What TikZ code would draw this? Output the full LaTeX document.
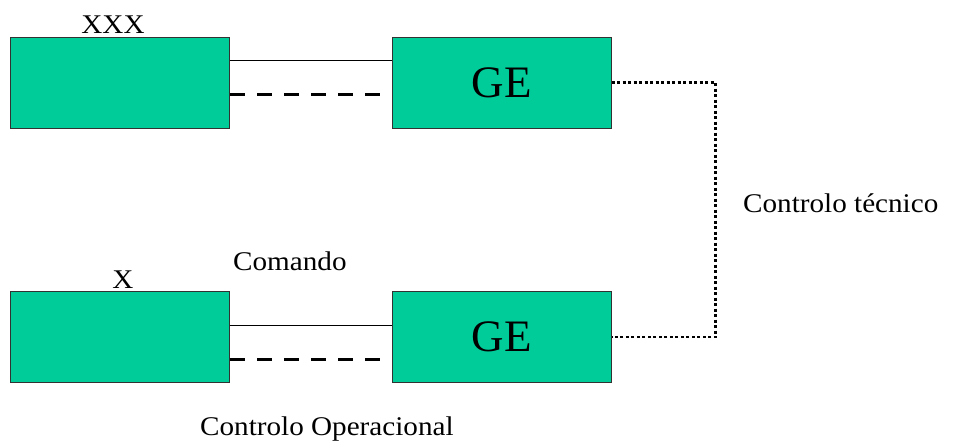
\documentclass[tikz,border=0pt]{standalone}
\usepackage{fontspec}
\setmainfont{Liberation Serif}
\newfontfamily\lblfont[FakeStretch=1.08]{Liberation Serif}
\definecolor{boxgreen}{RGB}{0,204,153}
\definecolor{edgegray}{RGB}{50,50,50}
\tikzset{
  unitbox/.style={draw=edgegray, line width=1pt, fill=boxgreen,
    minimum width=219pt, minimum height=91pt, inner sep=0pt,
    font=\fontsize{45}{45}\selectfont},
  lbl/.style={inner sep=0pt, anchor=base west, font=\lblfont\fontsize{27}{27}\selectfont},
  cmdline/.style={draw=black, line width=1pt},
  opline/.style={draw=black, line width=3pt, dash pattern=on 15pt off 12pt},
  techline/.style={draw=black, line width=2.5pt, dash pattern=on 3pt off 2.5pt}
}
\begin{document}
\begin{tikzpicture}[x=1pt, y=-1pt]
  \useasboundingbox (0,0) rectangle (954,447);

  % units
  \node[unitbox] (tl) at (120,82.5) {};
  \node[unitbox] (tge) at (501.5,82.5) {GE};
  \node[unitbox] (bl) at (120,337) {};
  \node[unitbox] (bge) at (501.5,337) {GE};

  % unit labels
  \node[lbl, anchor=base] (xxx) at (113,34) {XXX};
  \node[lbl, anchor=base] (x) at (123,288) {X};

  % command (solid) and operational control (dashed) links
  \draw[cmdline] ([yshift=22.5pt]tl.east) -- ([yshift=22.5pt]tge.west);
  \draw[opline] ([yshift=-11.5pt]tl.east) -- ([yshift=-11.5pt,xshift=-12pt]tge.west);
  \draw[cmdline] ([yshift=12pt]bl.east) -- ([yshift=12pt]bge.west);
  \draw[opline] ([yshift=-22pt]bl.east) -- ([yshift=-22pt,xshift=-12pt]bge.west);

  % technical control between the two GE
  \draw[techline] (tge.east) -- ++(104,0) |- (bge.east);

  % texts
  \node[lbl] (cmd) at (233,270) {Comando};
  \node[lbl] (opc) at (200,435) {Controlo Operacional};
  \node[lbl] (tec) at (743,212) {Controlo técnico};
\end{tikzpicture}
\end{document}
